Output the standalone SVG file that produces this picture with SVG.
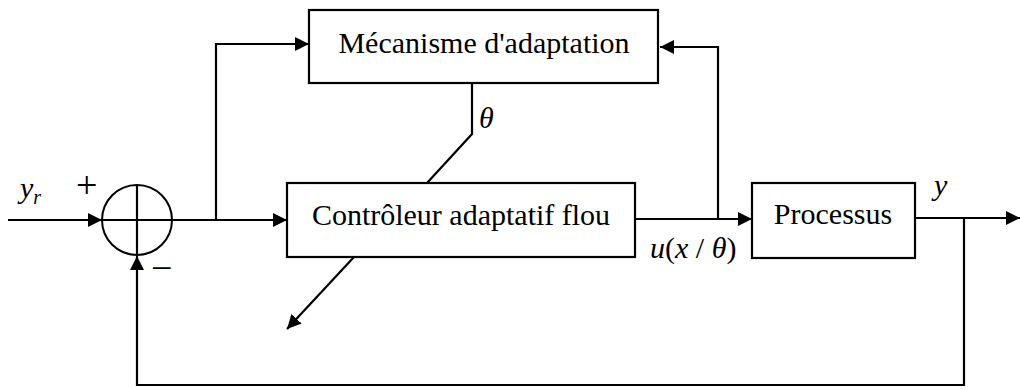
<svg xmlns="http://www.w3.org/2000/svg" width="1020" height="390" viewBox="0 0 1020 390">
<style>
.box{fill:#fff;stroke:#000;stroke-width:2.2}
.ln{fill:none;stroke:#000;stroke-width:2.2}
text{fill:#000;font-size:30px;font-family:'Liberation Serif','Times New Roman',serif}
.m{font-style:italic}
.s{font-size:38px}
</style>
<defs>
<marker id="ah" viewBox="0 0 10 10" refX="10" refY="5" markerWidth="14" markerHeight="14" markerUnits="userSpaceOnUse" orient="auto">
<path d="M0,0 L10,5 L0,10 z" fill="#000"/>
</marker>
</defs>
<rect width="1020" height="390" fill="#fff"/>
<g id="connectors">
<line class="ln" x1="8" y1="220" x2="102" y2="220" marker-end="url(#ah)"/>
<line class="ln" x1="172" y1="220" x2="287" y2="220" marker-end="url(#ah)"/>
<polyline class="ln" points="216,220 216,44 309,44" marker-end="url(#ah)"/>
<line class="ln" x1="635" y1="219" x2="752" y2="219" marker-end="url(#ah)"/>
<polyline class="ln" points="718,219 718,47 660,47" marker-end="url(#ah)"/>
<polyline class="ln" points="472,83 472,134 427,183"/>
<line class="ln" x1="354" y1="257" x2="287" y2="329" marker-end="url(#ah)"/>
<line class="ln" x1="915" y1="218" x2="1020" y2="218" marker-end="url(#ah)"/>
<polyline class="ln" points="964,218 964,385 137,385 137,256" marker-end="url(#ah)"/>
</g>
<g id="sum">
<circle cx="137" cy="220" r="35" fill="#fff" stroke="#000" stroke-width="2"/>
<line class="ln" x1="102" y1="220" x2="172" y2="220"/>
<line class="ln" x1="137" y1="185" x2="137" y2="255"/>
<text class="s" x="76" y="198">+</text>
<text class="s" x="151" y="281">−</text>
</g>
<g id="adaptation">
<rect class="box" x="309" y="10" width="349" height="73"/>
<text x="484" y="53" text-anchor="middle">Mécanisme d'adaptation</text>
</g>
<g id="controleur">
<rect class="box" x="287" y="183" width="348" height="74"/>
<text x="461" y="225" text-anchor="middle">Contrôleur adaptatif flou</text>
</g>
<g id="processus">
<rect class="box" x="752" y="183" width="163" height="75"/>
<text x="833" y="224" text-anchor="middle">Processus</text>
</g>
<g id="labels">
<text class="m" x="20" y="198">y<tspan font-size="20" dy="6">r</tspan></text>
<text class="m" x="479" y="128">θ</text>
<text class="m" x="650" y="258">u<tspan font-style="normal">(</tspan>x<tspan font-style="normal"> / </tspan>θ<tspan font-style="normal">)</tspan></text>
<text class="m" x="934" y="195">y</text>
</g>
</svg>
